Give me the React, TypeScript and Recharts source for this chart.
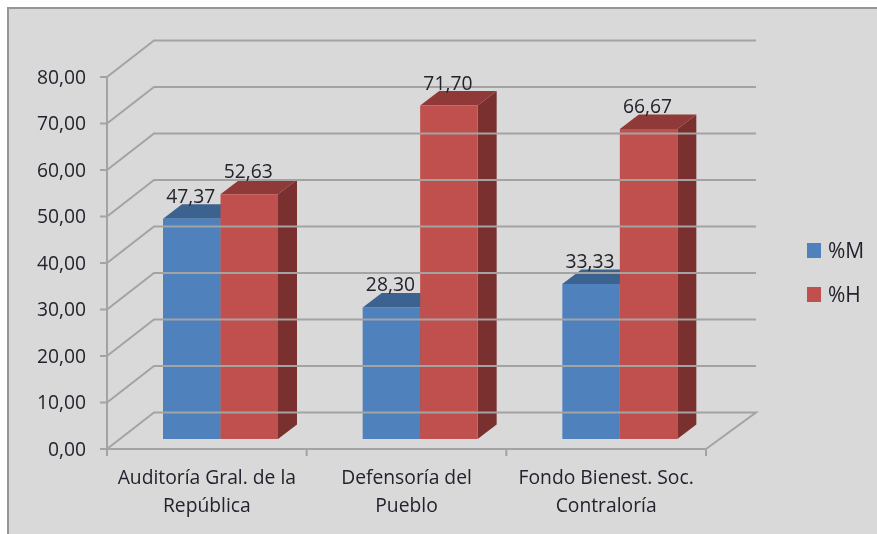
import React from "react";
import { BarChart, Bar, XAxis, YAxis, ReferenceLine, Legend, LabelList } from "recharts";

const categories = ["Auditoría Gral. de la República", "Defensoría del Pueblo", "Fondo Bienest. Soc. Contraloría"];
const categoryLines = [["Auditoría Gral. de la", "República"], ["Defensoría del", "Pueblo"], ["Fondo Bienest. Soc.", "Contraloría"]];
const valuesM = [47.37, 28.3, 33.33];
const valuesH = [52.63, 71.7, 66.67];
const yTicks = [0, 10, 20, 30, 40, 50, 60, 70, 80];
const data = categories.map((name, i) => ({ name, m: valuesM[i], h: valuesH[i] }));

const W = 877, H = 534;
const M = { top: 77, right: 171, bottom: 0, left: 0 };
const BAND = (W - 107 - M.right) / 3;
const FONT = "'Open Sans', sans-serif";
const TEXT = "#23232e";
const GRID = "#a3a3a3";
const BLUE = { front: "#4f81bd", top: "#3c638f", side: "#345578" };
const RED = { front: "#c0504d", top: "#8f3a38", side: "#7a302e" };
const fmt = (v: number) => v.toFixed(2).replace(".", ",");

const SHIFT_X = 14, SHIFT_Y = -10;
const DX = 19, DY = -14.5;

const bar3d = (c: typeof BLUE) => (p: any) => {
  const x = p.x + SHIFT_X, y = p.y + SHIFT_Y, w = p.width, h = p.height;
  return (
    <g>
      <polygon fill={c.side} points={`${x + w},${y} ${x + w + DX},${y + DY} ${x + w + DX},${y + h + DY} ${x + w},${y + h}`} />
      <polygon fill={c.top} points={`${x},${y} ${x + DX},${y + DY} ${x + w + DX},${y + DY} ${x + w},${y}`} />
      <rect x={x} y={y} width={w} height={h} fill={c.front} />
    </g>
  );
};

const barLabel = (p: any) => (
  <text x={p.x + SHIFT_X + p.width / 2 - 1} y={p.y + SHIFT_Y - 16} textAnchor="middle" fontFamily={FONT} fontSize={19.3} fill={TEXT}>
    {fmt(p.value)}
  </text>
);

const gridShape = (isFloor: boolean) => (p: any) => {
  const { x1, y1, x2 } = p;
  const d = isFloor
    ? `M${x1},${y1} L${x1 + 47},${y1 - 36.5} L${x2 + 50},${y1 - 36.5} L${x2},${y1}`
    : `M${x1},${y1} L${x1 + 47},${y1 - 36.5} L${x2 + 50},${y1 - 36.5}`;
  return <path d={d} fill="none" stroke={GRID} strokeWidth={2} />;
};

const CategoryTick = (p: any) => {
  const { x, y, index } = p;
  const lines = categoryLines[index];
  return (
    <g>
      <line x1={x - BAND / 2} x2={x - BAND / 2} y1={y - 9} y2={y - 1} stroke={GRID} strokeWidth={2} />
      {index === categoryLines.length - 1 && (
        <line x1={x + BAND / 2} x2={x + BAND / 2} y1={y - 9} y2={y - 1} stroke={GRID} strokeWidth={2} />
      )}
      <text textAnchor="middle" fontFamily={FONT} fontSize={19.3} fill={TEXT}>
        <tspan x={x} y={484}>{lines[0]}</tspan>
        <tspan x={x} y={512}>{lines[1]}</tspan>
      </text>
    </g>
  );
};

const LegendBox = (p: any) => (
  <div>
    {(p.payload || []).map((e: any) => (
      <div key={e.value} style={{ display: "flex", alignItems: "center", height: 44, fontFamily: FONT, fontSize: 21, color: TEXT }}>
        <span style={{ width: 14, height: 15, background: e.color, marginRight: 7, display: "inline-block" }} />
        {e.value}
      </div>
    ))}
  </div>
);

export default function App() {
  return (
    <div style={{ position: "absolute", left: 0, top: 0, width: W, height: H, background: "#fff", overflow: "hidden" }}>
      <div style={{ position: "absolute", left: 7, top: 7, width: W, height: H, background: "#d9d9d9", borderLeft: "2px solid #969696", borderTop: "2px solid #969696", boxSizing: "border-box" }} />
      <div style={{ position: "absolute", left: 0, top: 0, filter: "blur(0.4px)" }}>
        <BarChart width={W} height={H} data={data} margin={M} barSize={57.5} barGap={0} style={{ fontFamily: FONT }}>
          <XAxis dataKey="name" height={85} stroke={GRID} strokeWidth={2} tickLine={false} interval={0} tick={CategoryTick} />
          <YAxis
            domain={[0, 80]}
            ticks={yTicks}
            width={107}
            interval={0}
            stroke={GRID}
            strokeWidth={2}
            tickSize={7}
            tickMargin={14}
            tickFormatter={fmt}
            tick={{ fontFamily: FONT, fontSize: 19.3, fill: TEXT }}
          />
          {yTicks.map((t) => (
            <ReferenceLine key={t} y={t} shape={gridShape(t === 0)} />
          ))}
          <Bar dataKey="m" name="%M" fill={BLUE.front} shape={bar3d(BLUE)} isAnimationActive={false}>
            <LabelList dataKey="m" content={barLabel} />
          </Bar>
          <Bar dataKey="h" name="%H" fill={RED.front} shape={bar3d(RED)} isAnimationActive={false}>
            <LabelList dataKey="h" content={barLabel} />
          </Bar>
          <Legend layout="vertical" align="center" verticalAlign="middle" itemSorter={null} content={LegendBox} wrapperStyle={{ left: 807, top: 228, width: 70 }} />
        </BarChart>
      </div>
    </div>
  );
}
